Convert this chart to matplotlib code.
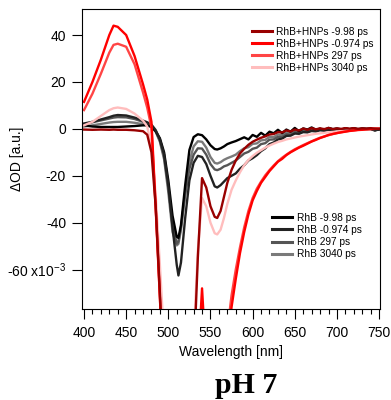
import matplotlib
matplotlib.use("Agg")
import matplotlib.pyplot as plt
from matplotlib.lines import Line2D

plt.rcParams['font.family'] = ['Liberation Sans', 'DejaVu Sans']
plt.rcParams['axes.unicode_minus'] = False
plt.rcParams['mathtext.default'] = 'regular'

# wavelength grid [nm]
wl = [400, 410, 420, 430, 435, 440, 450, 460, 470,
      475, 480, 485, 490, 495, 500, 505, 510,
      512, 515, 520, 525, 530, 535, 540, 545, 550, 555,
      558, 562, 566, 570, 575,
      580, 585, 590, 595, 600, 605, 610, 615, 620, 625, 630, 635, 640, 645, 650, 655, 660, 665,
      670, 675, 680, 685, 690, 695, 700, 705, 710, 715, 720, 725, 730, 735, 740, 745, 750]

# dOD x 1e-3, RhB + HNPs
hnp_m998 = [-0.3, -0.4, -0.3, -0.4, -0.3, -0.4, -0.4, -0.6, -1,
            -2.5, -10, -33, -70, -110, -140, -140, -140,
            -140, -140, -140, -140, -100, -55, -21, -25, -33, -37.5,
            -38, -35, -29, -23, -17.5,
            -13.5, -10.5, -8.5, -6.8, -5.5, -4.6, -3.8, -3.2, -2.4, -2.2, -1.4, -1.5, -0.7, -1.1, -0.3, -0.7, 0.1, -0.4,
            0.3, -0.2, 0.2, -0.1, 0.4, -0.1, 0.2, 0, 0.3, 0.1, 0.3, 0, 0.2, 0.1, 0.3, 0.1, 0]
hnp_m0974 = [11.5, 20, 29.5, 40, 44, 43.5, 40, 31, 19,
             12.5, 3, -33, -72, -110, -130, -140, -140,
             -140, -140, -140, -130, -120, -100, -68, -100, -130, -140,
             -140, -130, -115, -92, -76,
             -64, -53, -44, -36.5, -30.5, -26.5, -23, -20.5, -18, -16, -14, -12.8, -11.2, -10, -9, -8, -7.2, -6.3,
             -5.4, -4.7, -3.9, -3.3, -2.6, -2.2, -1.8, -1.5, -1.2, -0.9, -0.7, -0.5, -0.4, -0.2, -0.1, 0, 0.1]
hnp_297 = [8, 15, 23.5, 32.5, 35.8, 36.3, 35, 27.5, 15.5,
           9, 0.5, -34, -72, -110, -130, -140, -140,
           -140, -140, -140, -130, -120, -105, -90, -105, -130, -140,
           -140, -125, -108, -86, -71,
           -60, -50.5, -42, -35, -29.5, -25.5, -22.5, -19.8, -17.6, -15.6, -13.8, -12.3, -11, -9.8, -8.7, -7.8, -6.9, -6.1,
           -5.3, -4.5, -3.8, -3.2, -2.7, -2.2, -1.8, -1.4, -1.1, -0.8, -0.6, -0.4, -0.3, -0.1, 0, 0.1, 0]
hnp_3040 = [1.5, 3, 5.5, 8, 8.8, 9.1, 8.5, 6.5, 3.5,
            1, -8, -28, -58, -90, -120, -140, -140,
            -140, -140, -140, -140, -90, -52, -29.5, -33, -40, -44.5,
            -45, -43, -38, -32, -26,
            -22, -18.5, -15.5, -13.3, -11.6, -10.2, -9.1, -8, -7.1, -6.3, -5.6, -5.1, -4.5, -4.1, -3.7, -3.3, -3, -2.7,
            -2.4, -2.1, -1.9, -1.7, -1.5, -1.3, -1.1, -0.9, -0.8, -0.6, -0.5, -0.4, -0.3, -0.2, -0.1, 0, 0]

# dOD x 1e-3, RhB only
rhb_m998 = [1.5, 1, 0.8, 0.8, 0.8, 0.8, 1, 1.2, 1.5,
            1.5, 0.8, -1, -4, -10, -22, -37, -46,
            -46.5, -41, -24, -9, -3.5, -2.3, -2.7, -4.5, -7, -8.6,
            -8.8, -8.3, -7.5, -6.5, -5.8,
            -5.2, -4.4, -3.6, -4.5, -2.6, -3.4, -1.7, -2.9, -1.2, -1.9, -0.4, -1.8, -0.3, -1.2, 0.4, -1.0, 0.2, -0.3,
            0.6, -0.4, 0.1, -0.7, 0.4, -0.1, 0, -0.5, 0.3, -0.2, 0.3, -0.3, 0.1, 0, -0.1, -0.7, -0.2]
rhb_m0974 = [2.3, 3, 4, 5, 5.6, 5.9, 5.7, 4.8, 3.5,
             2.8, 1.8, -0.5, -4.5, -11, -24, -42, -58,
             -62.5, -57, -38, -22, -14.5, -11.5, -12, -15, -20, -24.5,
             -25, -24, -22.5, -21, -20,
             -19, -17, -15.5, -13.5, -12.5, -11.2, -9.5, -8.3, -6.5, -5.8, -4.5, -4.2, -3, -2.9, -2, -2.1, -1.4, -1.5,
             -0.9, -1.1, -0.6, -0.8, -0.4, -0.6, -0.2, -0.5, -0.1, -0.3, 0, -0.2, 0.1, -0.1, 0, -0.5, -0.3]
rhb_297 = [2, 2.8, 3.6, 4.4, 4.8, 5, 4.9, 4.2, 3,
           2.3, 1.3, -1, -5, -12, -25, -41, -49,
           -48, -42, -28, -17, -11, -8.3, -8.4, -11, -15, -17.3,
           -17.6, -17, -16, -15.5, -14.5,
           -13.5, -12, -10.5, -9.8, -8.5, -8, -6.5, -6.1, -4.6, -4.5, -3.4, -3.5, -2.3, -2.6, -1.4, -1.9, -0.8, -1.3,
           -0.4, -0.9, -0.1, -0.7, 0.1, -0.5, 0.2, -0.4, 0.1, -0.2, 0.1, -0.2, 0, -0.1, 0.1, -0.5, -0.2]
rhb_3040 = [1, 1.5, 2.1, 2.7, 2.9, 3, 3, 2.6, 2,
            1.6, 0.8, -1.2, -5.5, -13, -27, -44, -49.7,
            -49, -43, -27, -14, -7.5, -5.3, -5.5, -8, -12, -14.5,
            -14.8, -14.2, -13.2, -12.5, -11.8,
            -11, -9.5, -8.3, -7.8, -6.4, -6.2, -4.9, -4.7, -3.4, -3.5, -2.4, -2.7, -1.6, -1.9, -0.9, -1.4, -0.4, -1,
            -0.1, -0.7, 0.1, -0.4, 0.3, -0.3, 0.2, -0.2, 0.1, -0.1, 0.1, 0, 0, -0.1, 0.1, -0.4, -0.1]

hnp_labels = ['RhB+HNPs -9.98 ps', 'RhB+HNPs -0.974 ps', 'RhB+HNPs 297 ps', 'RhB+HNPs 3040 ps']
rhb_labels = ['RhB -9.98 ps', 'RhB -0.974 ps', 'RhB 297 ps', 'RhB 3040 ps']
hnp_colors = ['#990000', '#ff0000', '#ff4545', '#ffbdbd']
rhb_colors = ['#000000', '#222222', '#555555', '#7a7a7a']

fig = plt.figure(figsize=(3.91, 4.0), dpi=100)
ax = fig.add_axes([0.2097, 0.2275, 0.7622, 0.75])

rhb_data = [rhb_m998, rhb_m0974, rhb_297, rhb_3040]
hnp_data = [hnp_m998, hnp_m0974, hnp_297, hnp_3040]

for i in [3, 2, 0, 1]:
    ax.plot(wl, rhb_data[i], color=rhb_colors[i], lw=1.7)
for i in [3, 2, 1, 0]:
    ax.plot(wl, hnp_data[i], color=hnp_colors[i], lw=1.7)

ax.set_xlim(397.6, 751.1)
ax.set_ylim(-76.8, 51.1)

ax.set_xticks([400, 450, 500, 550, 600, 650, 700, 750])
ax.set_xticks(range(410, 750, 10), minor=True)
ax.set_yticks([-60, -40, -20, 0, 20, 40])
ax.set_yticklabels([r'-60 x10$^{-3}$', '-40', '-20', '0', '20', '40'])
ax.tick_params(axis='x', which='major', length=7, width=0.8, pad=5, labelsize=10)
ax.tick_params(axis='x', which='minor', length=3.6, width=0.8)
ax.tick_params(axis='y', which='major', length=7.5, width=0.8, pad=4, labelsize=10)
for s in ax.spines.values():
    s.set_linewidth(0.8)

ax.set_xlabel('Wavelength [nm]', fontsize=10, labelpad=4)
ax.set_ylabel('ΔOD [a.u.]', fontsize=10)
ax.yaxis.set_label_coords(-0.195, 0.5)

h1 = [Line2D([], [], color=c, lw=2.2) for c in hnp_colors]
leg1 = ax.legend(h1, hnp_labels, loc='upper left', bbox_to_anchor=(0.6445, 0.933),
                 bbox_transform=fig.transFigure, frameon=False, fontsize=7.3,
                 handlelength=1.95, handletextpad=0.4, labelspacing=0.2, borderpad=0,
                 borderaxespad=0)
ax.add_artist(leg1)
h2 = [Line2D([], [], color=c, lw=2.2) for c in rhb_colors]
ax.legend(h2, rhb_labels, loc='upper left', bbox_to_anchor=(0.6957, 0.4675),
          bbox_transform=fig.transFigure, frameon=False, fontsize=7.3,
          handlelength=1.95, handletextpad=0.5, labelspacing=0.2, borderpad=0,
          borderaxespad=0)

fig.text(0.629, 0.018, 'pH 7', fontsize=21.5, fontweight='bold', ha='center', va='baseline',
         family=['Liberation Serif', 'DejaVu Serif'])

fig.savefig('out.png', dpi=100)
